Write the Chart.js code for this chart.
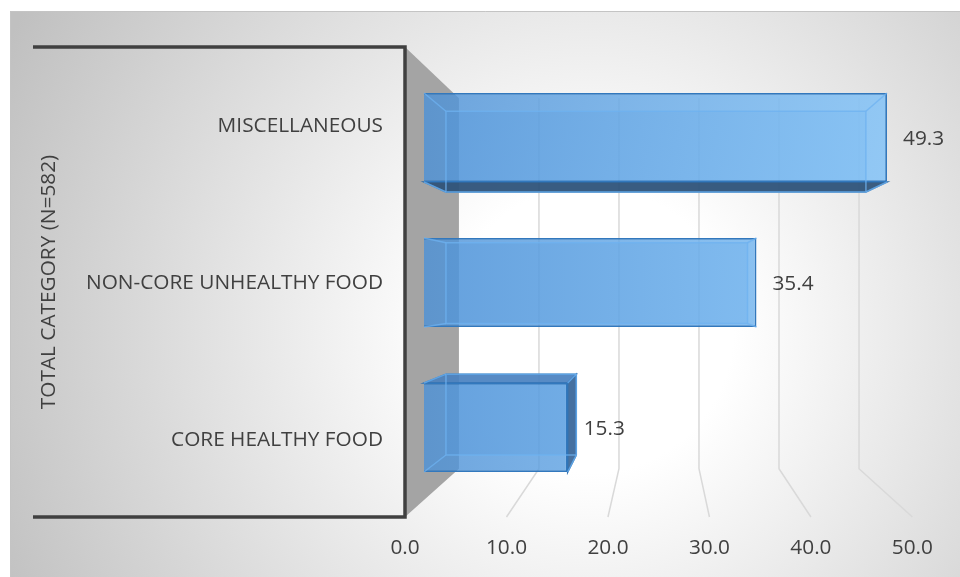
<!DOCTYPE html>
<html>
<head>
<meta charset="utf-8">
<script src="https://cdn.jsdelivr.net/npm/chart.js@4.4.1/dist/chart.umd.min.js"></script>
<style>
  html, body { margin: 0; padding: 0; background: #ffffff; }
  #wrap { width: 960px; height: 577px; position: relative; }
</style>
</head>
<body>
<div id="wrap"><canvas id="chart"></canvas></div>
<script>
const categories = ['MISCELLANEOUS', 'NON-CORE UNHEALTHY FOOD', 'CORE HEALTHY FOOD'];
const shares = [49.3, 35.4, 15.3];
const tickValues = [0, 10, 20, 30, 40, 50];
const tickLabels = ['0.0', '10.0', '20.0', '30.0', '40.0', '50.0'];
const axisTitle = 'TOTAL CATEGORY (N=582)';

// Perspective set-up: vanishing point and depth factors, all relative to the
// plane of the bars' front faces (the plane the Chart.js scales live in).
const VP = { x: 660, y: 289 };
const FRAME_DEPTH = 1.0805;   // front frame / category axis plane
const BACK_FACE = 0.907;     // back face of each bar
const WALL_DEPTH = 0.852;    // back wall
const FRAME_LEFT = 33;
const FONT = '"Open Sans", "DejaVu Sans", sans-serif';
const FONT_SIZE = 20.8;
const TEXT = '#404040';

function proj(x, y, s) {
  return { x: VP.x + (x - VP.x) * s, y: VP.y + (y - VP.y) * s };
}

function poly(ctx, pts, fill, stroke, lw) {
  ctx.beginPath();
  ctx.moveTo(pts[0].x, pts[0].y);
  for (let i = 1; i < pts.length; i++) ctx.lineTo(pts[i].x, pts[i].y);
  ctx.closePath();
  if (fill) { ctx.fillStyle = fill; ctx.fill(); }
  if (stroke) { ctx.strokeStyle = stroke; ctx.lineWidth = lw || 1; ctx.stroke(); }
}

function barBox(el) {
  const p = el.getProps(['x', 'y', 'base', 'height'], true);
  return {
    left: Math.min(p.base, p.x), right: Math.max(p.base, p.x),
    top: p.y - p.height / 2, bottom: p.y + p.height / 2, cy: p.y
  };
}

const scene3d = {
  id: 'scene3d',
  beforeDraw(chart) {
    const { ctx, width, height } = chart;
    ctx.save();
    ctx.fillStyle = '#ffffff';
    ctx.fillRect(0, 0, width, height);
    const g = ctx.createRadialGradient(590, 330, 0, 590, 330, 650);
    g.addColorStop(0, '#ffffff');
    g.addColorStop(0.22, '#ffffff');
    g.addColorStop(1, '#c0c0c0');
    ctx.fillStyle = g;
    ctx.fillRect(10, 11, width - 10, height - 11);
    ctx.strokeStyle = '#c4c4c4';
    ctx.lineWidth = 1;
    ctx.beginPath();
    ctx.moveTo(10.5, height);
    ctx.lineTo(10.5, 11.5);
    ctx.lineTo(width, 11.5);
    ctx.stroke();
    ctx.restore();
  },
  beforeDatasetsDraw(chart) {
    const { ctx, chartArea: a, scales: { x } } = chart;
    ctx.save();

    // back wall and floor grid lines
    ctx.strokeStyle = '#d9d9d9';
    ctx.lineWidth = 1.5;
    tickValues.forEach(v => {
      if (v === tickValues[0]) return;
      const px = x.getPixelForValue(v);
      const wt = proj(px, a.top, WALL_DEPTH);
      const wb = proj(px, a.bottom, WALL_DEPTH);
      const fb = proj(px, a.bottom, FRAME_DEPTH);
      ctx.beginPath();
      ctx.moveTo(wt.x, wt.y);
      ctx.lineTo(wb.x, wb.y);
      ctx.lineTo(fb.x, fb.y);
      ctx.stroke();
    });

    // left side wall
    const x0 = x.getPixelForValue(tickValues[0]);
    const ft = proj(x0, a.top, FRAME_DEPTH), fb = proj(x0, a.bottom, FRAME_DEPTH);
    const wt = proj(x0, a.top, WALL_DEPTH), wb = proj(x0, a.bottom, WALL_DEPTH);
    poly(ctx, [ft, wt, wb, fb], '#a4a4a4');

    // frame of the category axis
    ctx.strokeStyle = '#404040';
    ctx.lineWidth = 3.5;
    ctx.lineJoin = 'miter';
    ctx.beginPath();
    ctx.moveTo(FRAME_LEFT, ft.y);
    ctx.lineTo(ft.x, ft.y);
    ctx.lineTo(fb.x, fb.y);
    ctx.lineTo(FRAME_LEFT, fb.y);
    ctx.stroke();

    // hidden / side faces of each bar
    const meta = chart.getDatasetMeta(0);
    meta.data.forEach(el => {
      const b = barBox(el);
      const F = { tl: { x: b.left, y: b.top }, tr: { x: b.right, y: b.top },
                  br: { x: b.right, y: b.bottom }, bl: { x: b.left, y: b.bottom } };
      const B = { tl: proj(b.left, b.top, BACK_FACE), tr: proj(b.right, b.top, BACK_FACE),
                  br: proj(b.right, b.bottom, BACK_FACE), bl: proj(b.left, b.bottom, BACK_FACE) };
      // back face
      poly(ctx, [B.tl, B.tr, B.br, B.bl], 'rgba(95,160,225,0.35)');
      // bottom face, seen when the bar sits above eye level
      if (b.bottom < VP.y) poly(ctx, [F.bl, F.br, B.br, B.bl], 'rgba(45,80,118,0.92)', '#2f6aa3', 1.5);
      // top face, seen when the bar sits below eye level
      if (b.top > VP.y) poly(ctx, [F.tl, F.tr, B.tr, B.tl], 'rgba(72,128,190,0.88)', '#2f72b4', 1.5);
      // end face, seen when the bar ends left of the vanishing point
      if (b.right < VP.x) poly(ctx, [F.tr, B.tr, B.br, F.br], 'rgba(58,102,152,0.92)', '#2f72b4', 1.5);
    });
    ctx.restore();
  },
  afterDatasetsDraw(chart) {
    const { ctx, chartArea: a, scales: { x } } = chart;
    const meta = chart.getDatasetMeta(0);
    ctx.save();

    // back-face edges showing through the translucent front faces
    meta.data.forEach(el => {
      const b = barBox(el);
      const F = [{ x: b.left, y: b.top }, { x: b.right, y: b.top }, { x: b.right, y: b.bottom }, { x: b.left, y: b.bottom }];
      const B = F.map(p => proj(p.x, p.y, BACK_FACE));
      ctx.strokeStyle = 'rgba(110,178,240,0.75)';
      ctx.lineWidth = 1.5;
      poly(ctx, B, null, 'rgba(110,178,240,0.75)', 1.5);
      F.forEach((p, i) => {
        ctx.beginPath();
        ctx.moveTo(p.x, p.y);
        ctx.lineTo(B[i].x, B[i].y);
        ctx.stroke();
      });
    });

    ctx.fillStyle = TEXT;
    ctx.font = FONT_SIZE + 'px ' + FONT;

    // value labels
    ctx.textAlign = 'left';
    ctx.textBaseline = 'middle';
    meta.data.forEach((el, i) => {
      const b = barBox(el);
      ctx.fillText(shares[i].toFixed(1), b.right + 16, b.cy + 1.5);
    });

    // category labels on the front frame
    const frameX = proj(x.getPixelForValue(tickValues[0]), 0, FRAME_DEPTH).x;
    ctx.textAlign = 'right';
    meta.data.forEach((el, i) => {
      const b = barBox(el);
      const p = proj(frameX, b.cy, FRAME_DEPTH);
      ctx.fillText(categories[i], frameX - 22, p.y + 1);
    });

    // value axis tick labels along the front edge of the floor
    ctx.textAlign = 'center';
    tickValues.forEach((v, i) => {
      const p = proj(x.getPixelForValue(v), a.bottom, FRAME_DEPTH);
      ctx.fillText(tickLabels[i], p.x, p.y + 31);
    });

    // category axis title
    const ft = proj(frameX, a.top, FRAME_DEPTH), fb = proj(frameX, a.bottom, FRAME_DEPTH);
    ctx.translate(49, (ft.y + fb.y) / 2);
    ctx.rotate(-Math.PI / 2);
    ctx.textAlign = 'center';
    ctx.fillText(axisTitle, 0, 0);
    ctx.restore();
  }
};

new Chart(document.getElementById('chart'), {
  type: 'bar',
  data: {
    labels: categories,
    datasets: [{
      data: shares,
      backgroundColor(c) {
        const area = c.chart.chartArea;
        if (!area) return 'rgba(90,155,215,0.8)';
        const g = c.chart.ctx.createLinearGradient(area.left, 0, area.right, 0);
        g.addColorStop(0, 'rgba(76,145,215,0.8)');
        g.addColorStop(1, 'rgba(128,194,248,0.82)');
        return g;
      },
      borderColor: '#3278bd',
      borderWidth: 1.8,
      categoryPercentage: 1,
      barPercentage: 0.614
    }]
  },
  options: {
    indexAxis: 'y',
    responsive: true,
    maintainAspectRatio: false,
    animation: false,
    events: [],
    layout: { padding: { left: 424, right: 66.4, top: 65, bottom: 77 } },
    plugins: { legend: { display: false }, tooltip: { enabled: false } },
    scales: {
      x: { display: false, min: tickValues[0], max: tickValues[tickValues.length - 1] },
      y: { display: false }
    }
  },
  plugins: [scene3d]
});
</script>
</body>
</html>
